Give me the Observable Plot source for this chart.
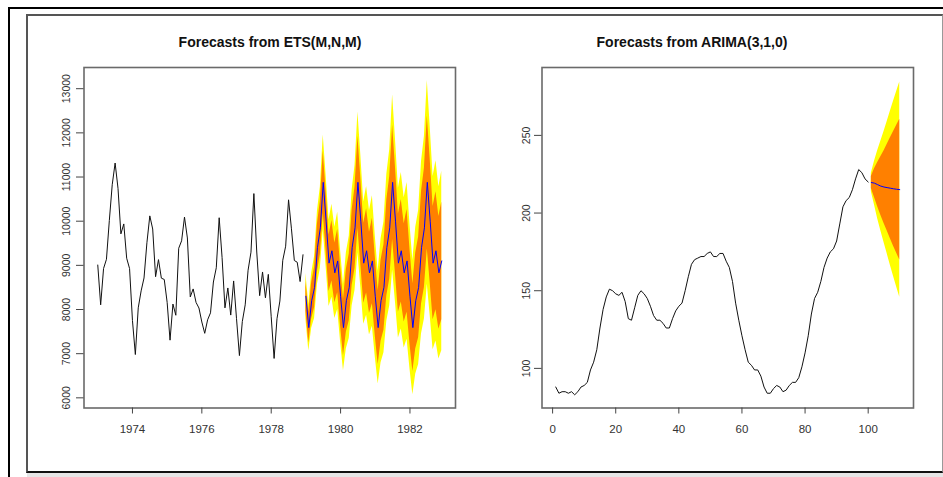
<!DOCTYPE html>
<html>
<head>
<meta charset="utf-8">
<script src="https://cdn.jsdelivr.net/npm/d3@7"></script>
<script src="https://cdn.jsdelivr.net/npm/@observablehq/plot@0.6"></script>
<style>
html, body { margin: 0; padding: 0; background: #fff; }
#wrap { position: relative; width: 943px; height: 477px; overflow: hidden; background: #fff; font-family: "Liberation Sans", Arial, sans-serif; }
.title { position: absolute; top: 35px; line-height: 14px; font-weight: bold; font-size: 14px; color: #111; white-space: nowrap; transform: translateX(-50%); }
</style>
</head>
<body>
<div id="wrap">
  <div style="position:absolute;left:9px;top:7px;width:934px;height:2px;background:#000"></div>
  <div style="position:absolute;left:8px;top:7px;width:2px;height:470px;background:#000"></div>
  <div style="position:absolute;left:27px;top:472px;width:916px;height:5px;background:#e6e6e6"></div>
  <div style="position:absolute;left:26px;top:14px;width:917px;height:459px;box-sizing:border-box;border-left:2px solid #555;border-top:2px solid #555;border-right:1px solid #999;border-bottom:2px solid #111"></div>
  <div class="title" style="left:270px">Forecasts from ETS(M,N,M)</div>
  <div class="title" style="left:692px">Forecasts from ARIMA(3,1,0)</div>
</div>
<script>
// ---- Left panel: monthly accidental deaths 1973-1978 and ETS(M,N,M) forecasts 1979-1982
const accStart = 1973;
const accDeaths = [
  9007, 8106, 8928, 9137, 10017, 10826, 11317, 10744, 9713, 9938, 9161, 8927,
  7750, 6981, 8038, 8422, 8714, 9512, 10120, 9823, 8743, 9129, 8710, 8680,
  8162, 7306, 8124, 7870, 9387, 9556, 10093, 9620, 8285, 8466, 8160, 8034,
  7717, 7461, 7767, 7925, 8623, 8945, 10078, 9179, 8037, 8488, 7874, 8647,
  7792, 6957, 7726, 8106, 8890, 9299, 10625, 9302, 8314, 8850, 8265, 8796,
  7836, 6892, 7791, 8192, 9115, 9434, 10484, 9827, 9110, 9070, 8633, 9240
];
const etsStart = 1979;
const etsMean = [
  8300, 7590, 8200, 8500, 9400, 9850, 10880, 10000, 9050, 9330, 8830, 9100,
  8300, 7590, 8200, 8500, 9400, 9850, 10880, 10000, 9050, 9330, 8830, 9100,
  8300, 7590, 8200, 8500, 9400, 9850, 10880, 10000, 9050, 9330, 8830, 9100,
  8300, 7590, 8200, 8500, 9400, 9850, 10880, 10000, 9050, 9330, 8830, 9100
];
const etsHi95 = [
  8817, 8119, 8826, 9201, 10230, 10772, 11954, 11036, 10029, 10381, 9862, 10201,
  9338, 8568, 9287, 9658, 10713, 11261, 12475, 11499, 10436, 10788, 10238, 10578,
  9673, 8867, 9604, 9979, 11062, 11619, 12863, 11849, 10747, 11104, 10532, 10876,
  9941, 9110, 9861, 10243, 11350, 11916, 13187, 12143, 11010, 11371, 10782, 11132
];
const etsLo95 = [
  7783, 7061, 7574, 7799, 8570, 8928, 9806, 8964, 8071, 8279, 7798, 7999,
  7262, 6612, 7113, 7342, 8087, 8439, 9285, 8501, 7664, 7872, 7422, 7622,
  6927, 6313, 6796, 7021, 7738, 8081, 8897, 8151, 7353, 7556, 7128, 7324,
  6659, 6070, 6539, 6757, 7450, 7784, 8573, 7857, 7090, 7289, 6878, 7068
];
const etsHi80 = [
  8638, 7936, 8610, 8959, 9943, 10453, 11582, 10678, 9690, 10017, 9505, 9820,
  8979, 8229, 8911, 9257, 10259, 10773, 11923, 10980, 9956, 10284, 9751, 10067,
  9198, 8425, 9118, 9467, 10487, 11007, 12177, 11209, 10160, 10490, 9943, 10262,
  9373, 8584, 9286, 9640, 10675, 11201, 12389, 11402, 10332, 10665, 10107, 10429
];
const etsLo80 = [
  7962, 7244, 7790, 8041, 8857, 9247, 10178, 9322, 8410, 8643, 8155, 8380,
  7621, 6951, 7489, 7743, 8541, 8927, 9837, 9020, 8144, 8376, 7909, 8133,
  7402, 6755, 7282, 7533, 8313, 8693, 9583, 8791, 7940, 8170, 7717, 7938,
  7227, 6596, 7114, 7360, 8125, 8499, 9371, 8598, 7768, 7995, 7553, 7771
];
const leftXTicks = [1974, 1976, 1978, 1980, 1982];
const leftYTicks = [6000, 7000, 8000, 9000, 10000, 11000, 12000, 13000];

// ---- Right panel: internet usage per minute and ARIMA(3,1,0) forecasts
const wwwUsage = [
  88, 84, 85, 85, 84, 85, 83, 85, 88, 89,
  91, 99, 104, 112, 126, 138, 146, 151, 150, 148,
  147, 149, 143, 132, 131, 139, 147, 150, 148, 145,
  140, 134, 131, 131, 129, 126, 126, 132, 137, 140,
  142, 150, 159, 167, 170, 171, 172, 172, 174, 175,
  172, 172, 174, 174, 169, 165, 156, 142, 131, 121,
  112, 104, 102, 99, 99, 95, 88, 84, 84, 87,
  89, 88, 85, 86, 89, 91, 91, 94, 101, 110,
  121, 135, 145, 149, 156, 165, 171, 175, 177, 182,
  193, 204, 208, 210, 215, 222, 228, 226, 222, 220
];
const arimaStart = 101;
const arimaMean = [219.66, 219.23, 218.28, 217.35, 216.76, 216.38, 216.01, 215.63, 215.32, 215.08];
const arimaLo80 = [215.78, 210.02, 203.98, 198.51, 193.50, 188.61, 183.69, 178.86, 174.24, 169.83];
const arimaHi80 = [223.54, 228.44, 232.58, 236.19, 240.02, 244.15, 248.33, 252.40, 256.40, 260.33];
const arimaLo95 = [213.72, 205.14, 196.41, 188.54, 181.19, 173.91, 166.58, 159.40, 152.50, 145.87];
const arimaHi95 = [225.60, 233.32, 240.15, 246.16, 252.33, 258.85, 265.44, 271.86, 278.14, 284.29];
const rightXTicks = [0, 20, 40, 60, 80, 100];
const rightYTicks = [100, 150, 200, 250];

// ---- tables
const accTable = accDeaths.map((v, i) => ({t: accStart + i / 12, v}));
const etsTable = etsMean.map((m, i) => ({
  t: etsStart + i / 12, m, lo95: etsLo95[i], hi95: etsHi95[i], lo80: etsLo80[i], hi80: etsHi80[i]
}));
const wwwTable = wwwUsage.map((v, i) => ({t: i + 1, v}));
const arimaTable = arimaMean.map((m, i) => ({
  t: arimaStart + i, m, lo95: arimaLo95[i], hi95: arimaHi95[i], lo80: arimaLo80[i], hi80: arimaHi80[i]
}));

const YELLOW = "#ffff00", ORANGE = "#ff8000", BLUE = "#0000ff";
const fmt = d => String(d);

function panel({series, fc, xDomain, yDomain, xTicks, yTicks, left, width, marginLeft, marginRight, yPad}) {
  return Plot.plot({
    width, height: 477,
    marginLeft, marginRight, marginTop: 67, marginBottom: 69.5,
    x: {type: "linear", domain: xDomain},
    y: {type: "linear", domain: yDomain},
    style: {position: "absolute", left: left + "px", top: "0px", background: "transparent",
            fontFamily: "'Liberation Sans', Arial, sans-serif", overflow: "visible"},
    marks: [
      Plot.areaY(fc, {x: "t", y1: "lo95", y2: "hi95", fill: YELLOW, curve: "linear"}),
      Plot.areaY(fc, {x: "t", y1: "lo80", y2: "hi80", fill: ORANGE, curve: "linear"}),
      Plot.line(series, {x: "t", y: "v", stroke: "#111", strokeWidth: 1}),
      Plot.line(fc, {x: "t", y: "m", stroke: BLUE, strokeWidth: 1}),
      Plot.frame({stroke: "#6a6a6a", strokeWidth: 1.6}),
      Plot.axisX({ticks: xTicks, tickFormat: fmt, tickSize: 6, tickPadding: 11, fontSize: 11.5,
                  stroke: "#444", fill: "#333", label: null}),
      Plot.axisY({ticks: yTicks, tickFormat: fmt, tickSize: 7.5, tickPadding: yPad, tickRotate: -90,
                  fontSize: 10.5, stroke: "#444", fill: "#333", label: null})
    ]
  });
}

const wrap = document.getElementById("wrap");
wrap.appendChild(panel({
  series: accTable, fc: etsTable,
  xDomain: [1972.603, 1983.313], yDomain: [5770, 13480],
  xTicks: leftXTicks, yTicks: leftYTicks,
  left: 0, width: 480, marginLeft: 83.5, marginRight: 25, yPad: 6.5
}));
wrap.appendChild(panel({
  series: wwwTable, fc: arimaTable,
  xDomain: [-3.36, 114.36], yDomain: [74.5, 293.7],
  xTicks: rightXTicks, yTicks: rightYTicks,
  left: 480, width: 463, marginLeft: 61.5, marginRight: 30, yPad: 5
}));
</script>
</body>
</html>
